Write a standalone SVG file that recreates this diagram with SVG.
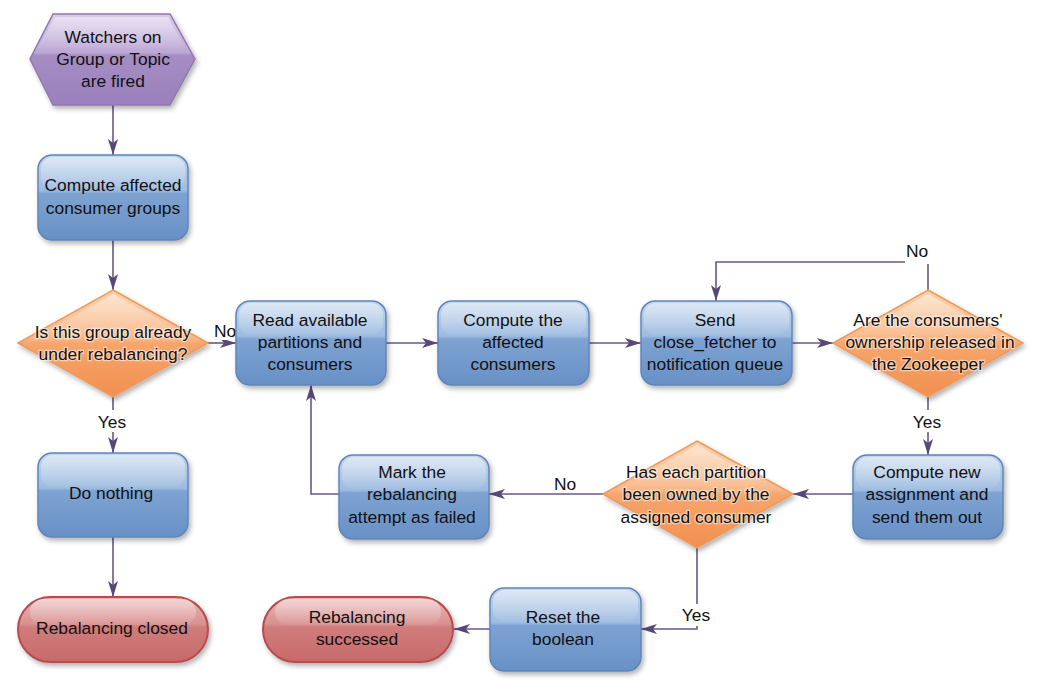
<svg xmlns="http://www.w3.org/2000/svg" width="1039" height="691" viewBox="0 0 1039 691">
<defs>
<linearGradient id="gBlue" x1="0" y1="0" x2="0" y2="1">
<stop offset="0" stop-color="#c4d6ec"/><stop offset="0.42" stop-color="#9dbbe0"/><stop offset="0.45" stop-color="#7ea3d2"/><stop offset="1" stop-color="#6890c6"/>
</linearGradient>
<linearGradient id="gOrange" x1="0" y1="0" x2="0" y2="1">
<stop offset="0" stop-color="#fbd2ad"/><stop offset="0.45" stop-color="#f9b88a"/><stop offset="0.5" stop-color="#f7a56c"/><stop offset="1" stop-color="#f19050"/>
</linearGradient>
<linearGradient id="gPurple" x1="0" y1="0" x2="0" y2="1">
<stop offset="0" stop-color="#d9cbe8"/><stop offset="0.42" stop-color="#bda8d6"/><stop offset="0.46" stop-color="#a58dc4"/><stop offset="1" stop-color="#9a80bc"/>
</linearGradient>
<linearGradient id="gRed" x1="0" y1="0" x2="0" y2="1">
<stop offset="0" stop-color="#eab4b4"/><stop offset="0.42" stop-color="#d99090"/><stop offset="0.46" stop-color="#d07c7c"/><stop offset="1" stop-color="#c86a6a"/>
</linearGradient>
<linearGradient id="gHl" x1="0" y1="0" x2="0" y2="1">
<stop offset="0" stop-color="#fff" stop-opacity="0.45"/><stop offset="1" stop-color="#fff" stop-opacity="0.05"/>
</linearGradient>
<filter id="sh" x="-10%" y="-10%" width="125%" height="130%">
<feDropShadow dx="2" dy="3" stdDeviation="2.5" flood-color="#000" flood-opacity="0.3"/>
</filter>
<marker id="arr" viewBox="0 0 16 10" refX="16" refY="5" markerWidth="16" markerHeight="10" markerUnits="userSpaceOnUse" orient="auto">
<path d="M0,0 L16,5 L0,10 L4,5 Z" fill="#58487a"/>
</marker>
</defs>
<style>
.blue{fill:url(#gBlue);stroke:#5f86bb;stroke-width:1.5;filter:url(#sh)}
.orange{fill:url(#gOrange);stroke:#ee9a5c;stroke-width:1.5;filter:url(#sh)}
.purple{fill:url(#gPurple);stroke:#9078b0;stroke-width:1.5;filter:url(#sh)}
.red{fill:url(#gRed);stroke:#b84c4c;stroke-width:2;filter:url(#sh)}
.hl{fill:url(#gHl)}
text{font-family:"Liberation Sans",Arial,sans-serif;font-size:17.4px;fill:#111;text-anchor:middle}
.dt{stroke:#fff;stroke-width:2.5;stroke-opacity:0.5;paint-order:stroke}
.lbl{fill:#111}
.edge{fill:none;stroke:#68588a;stroke-width:1.6}
</style>
<rect width="1039" height="691" fill="#ffffff"/>

<g id="connectors">
<path class="edge" d="M113,105 V155" marker-end="url(#arr)"/>
<path class="edge" d="M113,240 V290" marker-end="url(#arr)"/>
<path class="edge" d="M113,397 V453" marker-end="url(#arr)"/>
<path class="edge" d="M113,537 V597" marker-end="url(#arr)"/>
<path class="edge" d="M208,343 H236" marker-end="url(#arr)"/>
<path class="edge" d="M386,343 H438" marker-end="url(#arr)"/>
<path class="edge" d="M589,343 H641" marker-end="url(#arr)"/>
<path class="edge" d="M792,343 H833" marker-end="url(#arr)"/>
<path class="edge" d="M928,290 V262 H716 V301" marker-end="url(#arr)"/>
<path class="edge" d="M928,397 V455" marker-end="url(#arr)"/>
<path class="edge" d="M853,494 H793" marker-end="url(#arr)"/>
<path class="edge" d="M603,494 H489" marker-end="url(#arr)"/>
<path class="edge" d="M339,494 H311 V385" marker-end="url(#arr)"/>
<path class="edge" d="M697,548 V629 H641" marker-end="url(#arr)"/>
<path class="edge" d="M490,629 H454" marker-end="url(#arr)"/>
<rect x="905" y="238" width="26" height="26" fill="#fff"/>
<text x="917" y="257" class="lbl">No</text>
<rect x="212" y="320" width="24" height="20" fill="#fff"/>
<text x="225" y="337" class="lbl">No</text>
<rect x="95" y="410" width="34" height="22" fill="#fff"/>
<text x="112" y="428" class="lbl">Yes</text>
<rect x="911" y="410" width="34" height="22" fill="#fff"/>
<text x="927" y="428" class="lbl">Yes</text>
<rect x="552" y="473" width="26" height="20" fill="#fff"/>
<text x="565" y="490" class="lbl">No</text>
<rect x="679" y="604" width="34" height="22" fill="#fff"/>
<text x="696" y="621" class="lbl">Yes</text>
</g>

<g id="n-watchers">
<path class="purple" d="M53,14 H170 L195,59 L170,105 H53 L30,59 Z"/>
<path class="hl" d="M55,17 H168 L185,48 H38 Z"/>
<text x="113" y="43">Watchers on</text>
<text x="113" y="65">Group or Topic</text>
<text x="113" y="87">are fired</text>
</g>

<g id="n-compute-groups">
<rect class="blue" x="38" y="155" width="150" height="85" rx="14"/>
<rect class="hl" x="41" y="157" width="144" height="32" rx="12"/>
<text x="113" y="191">Compute affected</text>
<text x="113" y="214">consumer groups</text>
</g>

<g id="n-already">
<path class="orange" d="M113,290 L208,343 L113,397 L18,343 Z"/>
<path class="hl" d="M113,294 L186,335 H40 Z"/>
<text class="dt" x="113" y="338">Is this group already</text>
<text class="dt" x="113" y="360">under rebalancing?</text>
</g>

<g id="n-donothing">
<rect class="blue" x="38" y="453" width="150" height="84" rx="14"/>
<rect class="hl" x="41" y="455" width="144" height="32" rx="12"/>
<text x="111" y="499">Do nothing</text>
</g>

<g id="n-closed">
<rect class="red" x="18" y="597" width="190" height="65" rx="32.5"/>
<rect class="hl" x="30" y="599" width="166" height="26" rx="13"/>
<text x="112" y="634">Rebalancing closed</text>
</g>

<g id="n-read">
<rect class="blue" x="236" y="301" width="150" height="84" rx="14"/>
<rect class="hl" x="239" y="303" width="144" height="32" rx="12"/>
<text x="310" y="326">Read available</text>
<text x="310" y="348">partitions and</text>
<text x="310" y="370">consumers</text>
</g>

<g id="n-compute-consumers">
<rect class="blue" x="438" y="301" width="151" height="84" rx="14"/>
<rect class="hl" x="441" y="303" width="145" height="32" rx="12"/>
<text x="513" y="326">Compute the</text>
<text x="513" y="348">affected</text>
<text x="513" y="370">consumers</text>
</g>

<g id="n-send">
<rect class="blue" x="641" y="301" width="151" height="84" rx="14"/>
<rect class="hl" x="644" y="303" width="145" height="32" rx="12"/>
<text x="715" y="326">Send</text>
<text x="715" y="348">close_fetcher to</text>
<text x="715" y="370">notification queue</text>
</g>

<g id="n-released">
<path class="orange" d="M928,290 L1023,343 L928,397 L833,343 Z"/>
<path class="hl" d="M928,294 L1001,335 H855 Z"/>
<text class="dt" x="928" y="326">Are the consumers'</text>
<text class="dt" x="930" y="348">ownership released in</text>
<text class="dt" x="928" y="370">the Zookeeper</text>
</g>

<g id="n-assign">
<rect class="blue" x="853" y="455" width="150" height="84" rx="14"/>
<rect class="hl" x="856" y="457" width="144" height="32" rx="12"/>
<text x="927" y="478">Compute new</text>
<text x="927" y="500">assignment and</text>
<text x="927" y="523">send them out</text>
</g>

<g id="n-owned">
<path class="orange" d="M697,441 L793,494 L697,548 L603,494 Z"/>
<path class="hl" d="M697,445 L771,486 H625 Z"/>
<text class="dt" x="696" y="478">Has each partition</text>
<text class="dt" x="696" y="500">been owned by the</text>
<text class="dt" x="696" y="523">assigned consumer</text>
</g>

<g id="n-failed">
<rect class="blue" x="339" y="455" width="150" height="84" rx="14"/>
<rect class="hl" x="342" y="457" width="144" height="32" rx="12"/>
<text x="412" y="478">Mark the</text>
<text x="412" y="500">rebalancing</text>
<text x="412" y="523">attempt as failed</text>
</g>

<g id="n-reset">
<rect class="blue" x="490" y="588" width="151" height="83" rx="14"/>
<rect class="hl" x="493" y="590" width="145" height="32" rx="12"/>
<text x="563" y="623">Reset the</text>
<text x="563" y="645">boolean</text>
</g>

<g id="n-success">
<rect class="red" x="263" y="597" width="190" height="65" rx="32.5"/>
<rect class="hl" x="275" y="599" width="166" height="26" rx="13"/>
<text x="357" y="623">Rebalancing</text>
<text x="357" y="645">successed</text>
</g>
</svg>
